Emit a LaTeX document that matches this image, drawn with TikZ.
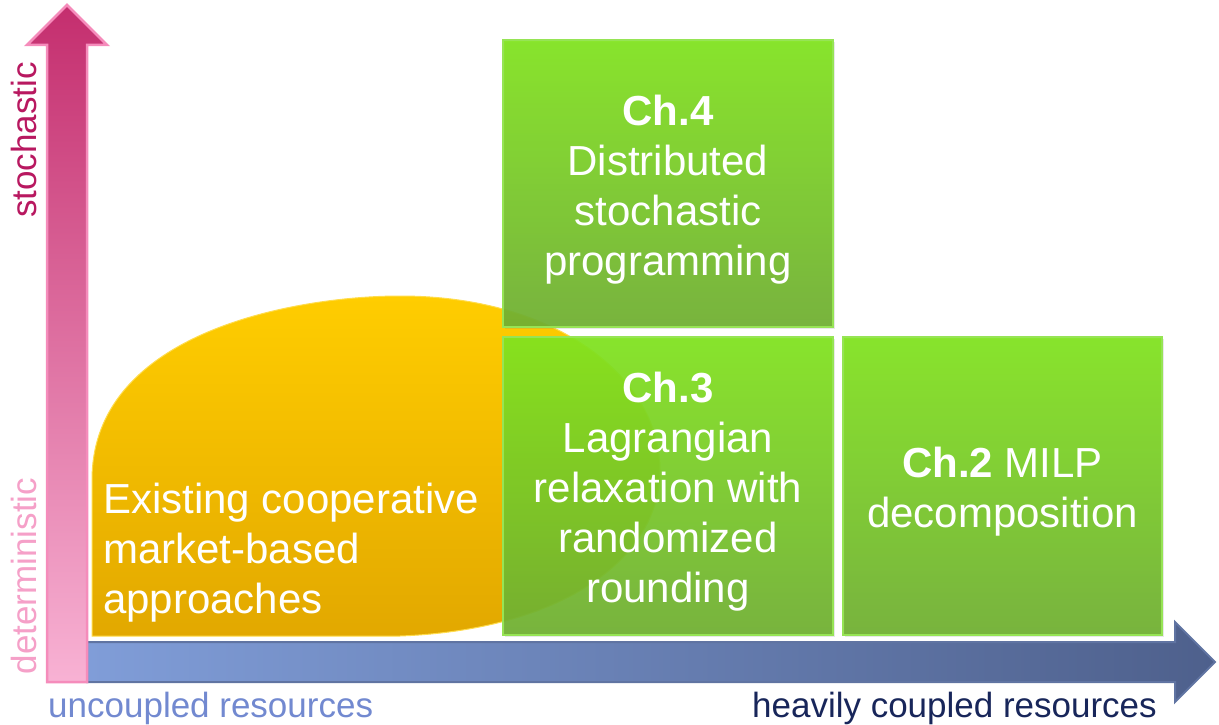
\documentclass[tikz,border=0pt]{standalone}
\usepackage{fontspec}
\setmainfont{Liberation Sans}
\usetikzlibrary{shadows}
\definecolor{grtop}{RGB}{129,228,30}
\definecolor{grbot}{RGB}{112,175,50}
\definecolor{grline}{RGB}{150,228,85}
\definecolor{pktop}{RGB}{196,46,110}
\definecolor{pkbot}{RGB}{248,178,212}
\definecolor{pkline}{RGB}{245,140,187}
\definecolor{blleft}{RGB}{128,157,216}
\definecolor{blright}{RGB}{78,96,140}
\definecolor{blline}{RGB}{96,116,162}
\definecolor{ortop}{RGB}{255,205,0}
\definecolor{orbot}{RGB}{226,168,0}
\definecolor{stoc}{RGB}{184,24,96}
\definecolor{detm}{RGB}{245,160,200}
\definecolor{uncp}{RGB}{114,137,208}
\definecolor{hvcp}{RGB}{24,38,90}
\tikzset{gb/.append style={draw=grline, line width=1.2pt, top color=grtop, bottom color=grbot,
  fill opacity=0.93, minimum width=330pt, inner sep=0pt,
  drop shadow={opacity=0.18, shadow xshift=2pt, shadow yshift=-2pt}}}
\tikzset{tw/.append style={text=white, align=center, inner sep=0pt, font=\fontsize{42}{50}\selectfont}}
\tikzset{ax/.append style={inner sep=0pt, font=\fontsize{35}{42}\selectfont}}

\begin{document}
\begin{tikzpicture}[x=1pt,y=-1pt]
\useasboundingbox (0,0) rectangle (1219,725);
% axes
\path[draw=blline, line width=2pt, left color=blleft, right color=blright]
  (87,642) -- (1175,642) -- (1175,622) -- (1215,662) -- (1175,702) -- (1175,682) -- (87,682) -- cycle;
\path[draw=pkline, line width=2.5pt, top color=pktop, bottom color=pkbot]
  (47,682) -- (47,45) -- (27,45) -- (67,5) -- (107,45) -- (87,45) -- (87,682) -- cycle;
% existing approaches
\path[draw=ortop!70!white, line width=1pt, top color=ortop, bottom color=orbot]
  (92,636) -- (92,480) .. controls (92,330) and (300,296) .. (400,296)
  .. controls (560,296) and (660,380) .. (660,470)
  .. controls (660,560) and (560,630) .. (400,636) -- cycle;
\node[gb, minimum height=287pt] (ch4) at (668,183.5) {};
\node[gb, minimum height=298pt] (ch3) at (668,486) {};
\node[gb, minimum width=319pt, minimum height=298pt] (ch2) at (1002.5,486) {};
\node[tw, anchor=north] (t4) at (668,94.5) {\textbf{Ch.4}\\Distributed\\stochastic\\programming};
\node[tw, anchor=north] (t3) at (668,371.5) {\textbf{Ch.3}\\Lagrangian\\relaxation with\\randomized\\rounding};
\node[tw, anchor=north] (t2) at (1002.5,446.5) {\textbf{Ch.2} MILP\\decomposition};
\node[tw, align=left, anchor=north west] (tex) at (103,483) {Existing cooperative\\market-based\\approaches};
\node[ax, text=stoc, rotate=90] (lsto) at (24,140) {stochastic};
\node[ax, text=detm, rotate=90] (ldet) at (24,576) {deterministic};
\node[ax, text=uncp, anchor=base west] (lunc) at (48,717) {uncoupled resources};
\node[ax, text=hvcp, anchor=base east] (lhvy) at (1157,717) {heavily coupled resources};
\end{tikzpicture}
\end{document}
